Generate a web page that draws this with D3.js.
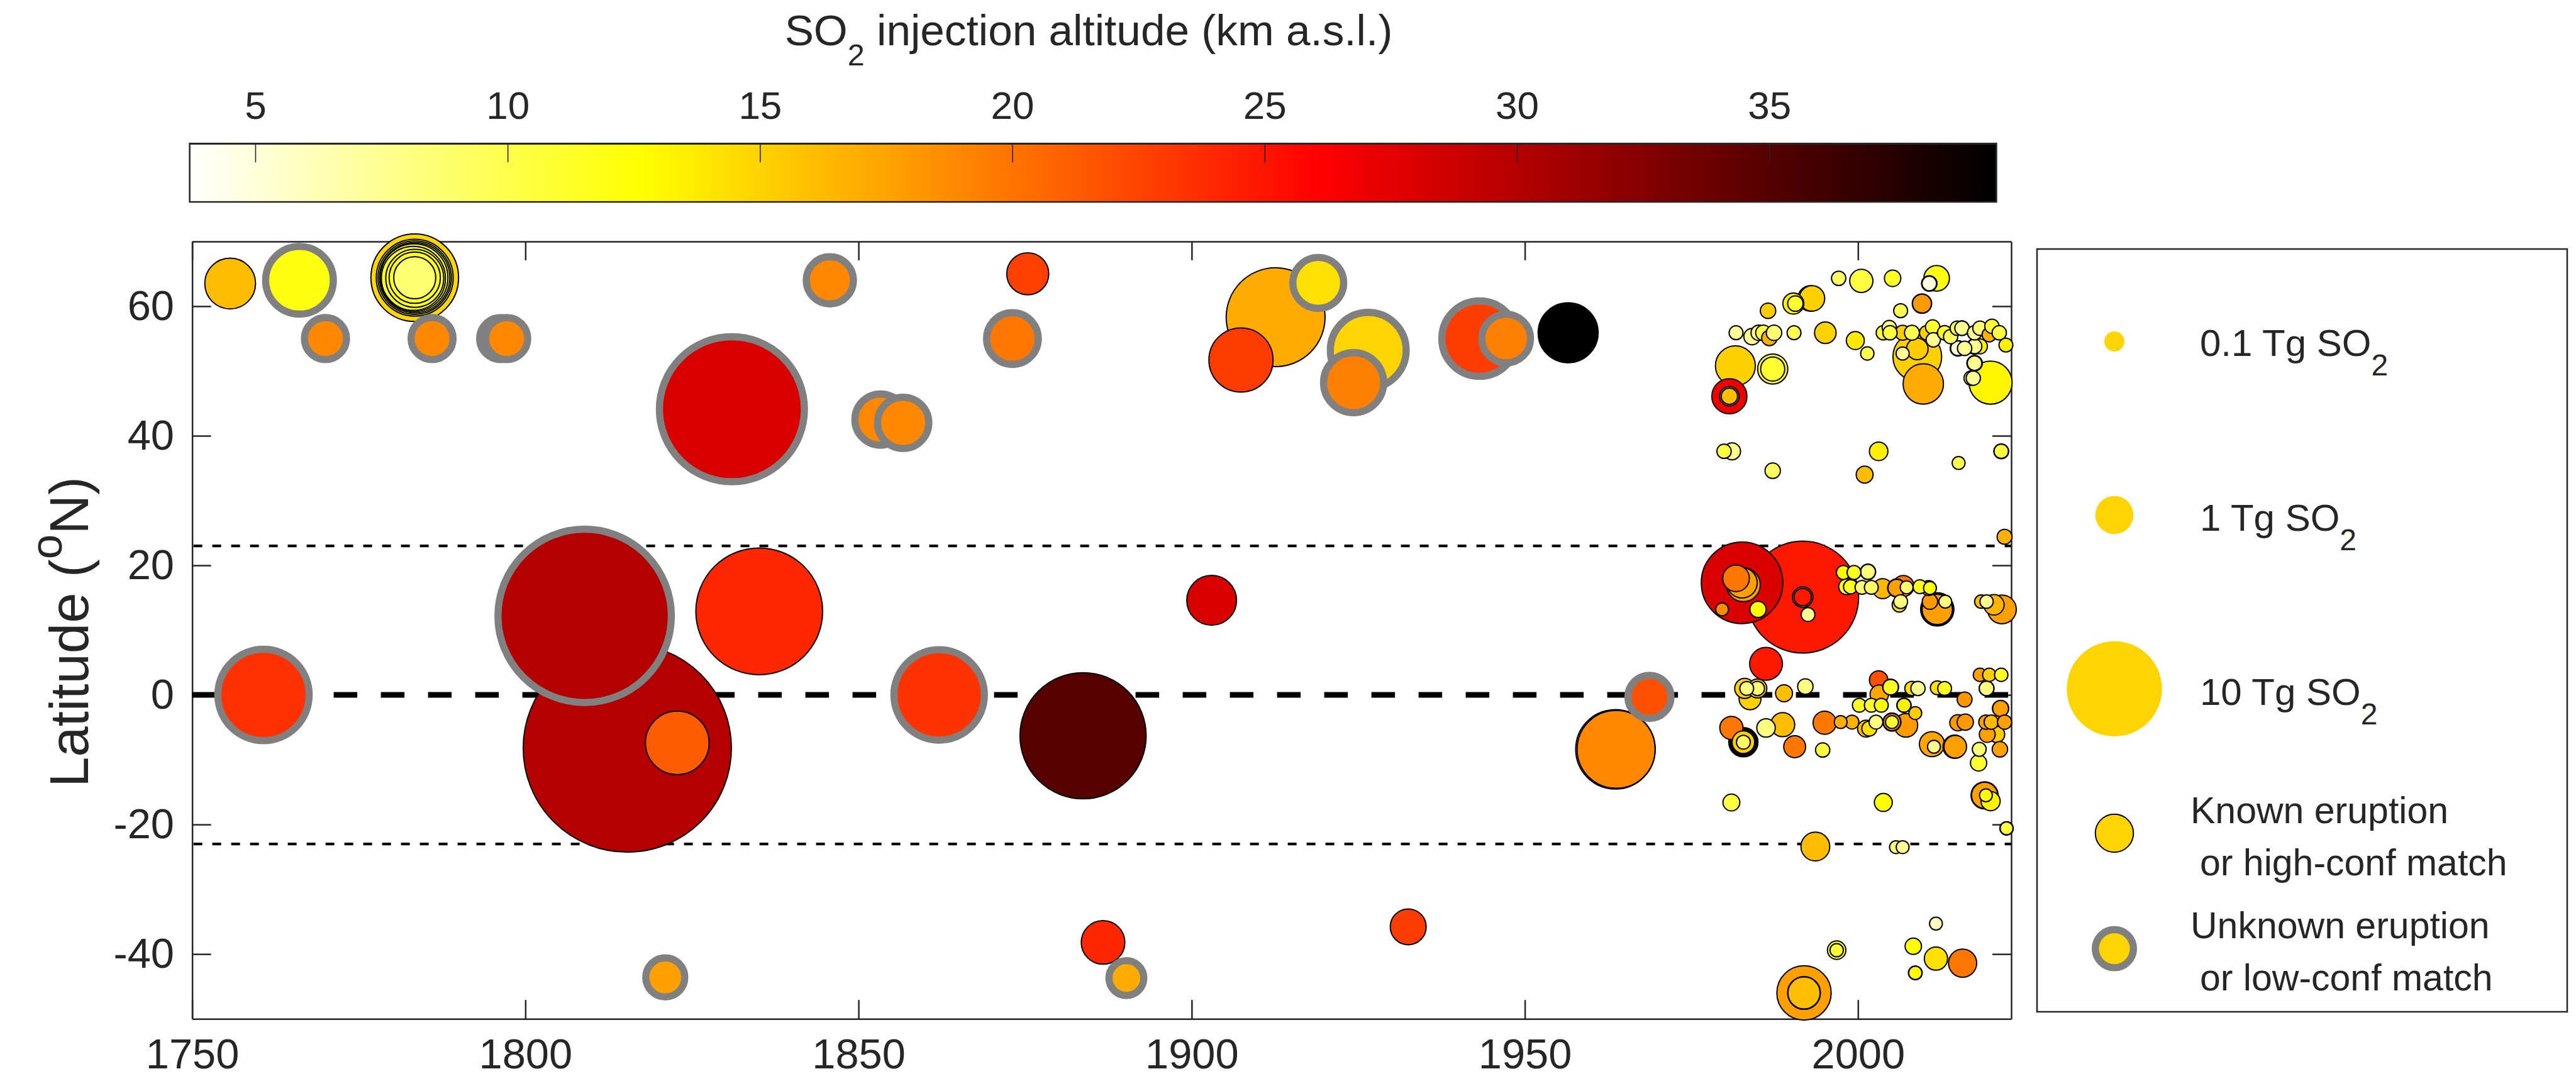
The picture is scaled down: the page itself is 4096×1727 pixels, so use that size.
<!DOCTYPE html>
<html>
<head>
<meta charset="utf-8">
<script src="https://cdn.jsdelivr.net/npm/d3@7/dist/d3.min.js"></script>
<style>
  html, body { margin: 0; padding: 0; background: #ffffff; }
  svg text { font-family: "Liberation Sans", Arial, Helvetica, sans-serif; fill: #262626; }
</style>
</head>
<body>
<svg id="chart" width="4096" height="1727"></svg>
<script>

// rows: [year, latitude (deg N), SO2 mass (Tg), injection altitude (km a.s.l.)]
const knownHistoric = [
    [1755.7, 63.5, 2.19, 16.2],
    [1783.4, 64.4, 8.28, 14.8], [1783.4, 64.4, 6.10, 11.5], [1783.4, 64.4, 5.45, 11.5],
    [1783.4, 64.4, 4.92, 11.5], [1783.3, 64.4, 4.50, 11.5], [1783.2, 64.3, 3.94, 11.5],
    [1783.4, 64.3, 3.07, 11.5], [1783.4, 64.4, 2.25, 11.5], [1783.4, 64.4, 1.32, 8.7],
    [1815.3, -8.2, 55.4, 30.0],
    [1822.8, -7.4, 3.87, 21.3],
    [1835.1, 12.9, 19.0, 24.0],
    [1875.4, 65.0, 1.32, 22.7],
    [1883.7, -6.3, 18.8, 35.0],
    [1886.7, -38.2, 1.46, 24.0],
    [1903.0, 14.6, 2.08, 28.1],
    [1907.4, 51.7, 3.95, 22.9],
    [1912.6, 58.3, 10.9, 17.1],
    [1932.5, -35.8, 0.84, 22.9],
    [1956.5, 55.9, 3.35, 39.5],
    [1963.6, -8.4, 6.6, 18.9],
    [1963.7, -8.4, 6.3, 18.9]
];

const unknownHistoric = [
    [1760.7, 0.0, 9.1, 23.5],
    [1766.1, 64.0, 4.5, 12.1],
    [1770.0, 55.0, 1.32, 18.9],
    [1786.0, 55.0, 1.32, 18.9],
    [1796.3, 55.0, 1.32, 18.9],
    [1797.2, 55.0, 1.32, 18.9],
    [1808.9, 12.2, 37.5, 30.0],
    [1821.0, -43.6, 1.07, 17.7],
    [1831.0, 44.1, 25.5, 28.1],
    [1845.7, 64.0, 1.81, 18.9],
    [1853.3, 42.5, 2.25, 18.9],
    [1856.7, 42.0, 2.25, 18.9],
    [1862.1, 0.0, 8.9, 23.4],
    [1873.1, 55.0, 2.3, 19.8],
    [1890.2, -43.7, 0.77, 17.1],
    [1919.0, 63.6, 2.2, 14.3],
    [1924.3, 48.2, 3.36, 19.4],
    [1926.5, 53.2, 5.9, 14.9],
    [1943.2, 55.0, 5.83, 22.9],
    [1947.2, 55.0, 1.97, 19.4],
    [1968.7, -0.3, 1.42, 21.9]
];

const satNorth = [
    [1997.1, 64.3, 0.01, 9.3], [2000.5, 63.9, 0.19, 10.4], [2005.2, 64.3, 0.032, 11.5],
    [2011.8, 64.3, 0.28, 12.1], [2010.7, 63.5, 0.02, 4.8], [2010.7, 63.5, 0.016, 4.8],
    [2010.7, 63.5, 0.012, 4.8], [1992.9, 61.2, 0.28, 15.1], [1993.1, 61.2, 0.27, 15.1],
    [1990.3, 60.4, 0.125, 13.4], [1990.6, 60.4, 0.02, 11.0], [1986.5, 59.3, 0.02, 15.3],
    [2006.4, 59.3, 0.007, 9.9], [2009.6, 60.4, 0.085, 18.0], [2009.6, 60.4, 0.075, 18.0],
    [1981.7, 55.9, 0.007, 7.3], [1984.1, 55.3, 0.032, 7.6], [1985.1, 55.9, 0.02, 7.6],
    [1985.8, 55.9, 0.02, 10.4], [1986.7, 55.1, 0.02, 16.8], [1987.4, 55.9, 0.02, 8.7],
    [1990.4, 55.9, 0.007, 9.9], [1995.1, 55.9, 0.14, 15.0], [1999.6, 54.7, 0.056, 13.8],
    [2001.4, 52.7, 0.004, 9.9], [2003.8, 55.9, 0.01, 11.0], [2004.7, 56.7, 0.01, 8.2],
    [2004.8, 55.9, 0.01, 10.4], [2006.7, 55.9, 0.015, 15.1], [2008.1, 55.9, 0.015, 9.9],
    [2010.3, 55.9, 0.01, 15.3], [2011.2, 56.8, 0.01, 11.0], [2011.3, 54.8, 0.01, 7.6],
    [2013.0, 55.9, 0.01, 11.5], [2013.9, 55.3, 0.01, 9.3], [2014.9, 56.6, 0.01, 9.3],
    [2015.6, 56.6, 0.012, 7.6], [2015.6, 56.6, 0.01, 7.6], [2017.5, 55.9, 0.01, 7.6],
    [2018.3, 56.6, 0.01, 8.7], [2019.7, 55.6, 0.01, 16.8], [2020.1, 56.9, 0.01, 11.0],
    [2021.2, 55.9, 0.01, 10.4], [2022.2, 54.0, 0.007, 13.5],
    [2015.0, 53.5, 0.02, 4.8], [2015.0, 53.5, 0.016, 4.8], [2015.0, 53.5, 0.012, 4.8],
    [2016.0, 53.5, 0.01, 7.6],
    [2017.5, 53.8, 0.02, 7.6], [2017.5, 53.8, 0.016, 7.6], [2017.5, 53.8, 0.012, 7.6],
    [2018.3, 53.8, 0.015, 13.4],
    [2017.5, 51.2, 0.02, 7.6], [2017.5, 51.2, 0.016, 7.6], [2017.5, 51.2, 0.012, 7.6],
    [2017.3, 48.9, 0.01, 7.3], [2017.0, 48.9, 0.012, 12.65],
    [2008.9, 52.2, 1.97, 15.1], [2008.9, 53.4, 0.14, 15.3], [2006.7, 52.7, 0.003, 7.3],
    [2009.8, 48.0, 1.18, 17.1], [2019.9, 48.2, 1.41, 13.2],
    [1981.6, 50.8, 1.14, 15.1], [1987.2, 50.3, 0.49, 11.0], [1987.2, 50.3, 0.22, 11.0],
    [1980.7, 46.1, 0.79, 27.0], [1980.7, 46.1, 0.087, 16.2], [1980.7, 46.1, 0.03, 16.2],
    [1979.9, 37.6, 0.01, 10.4], [1981.1, 37.6, 0.04, 7.6], [1987.2, 34.6, 0.02, 9.3],
    [2003.1, 37.6, 0.067, 13.5], [2001.0, 34.0, 0.039, 16.2], [2015.1, 35.8, 0.002, 9.9],
    [2021.5, 37.6, 0.014, 10.4], [2021.5, 37.6, 0.01, 10.4]
];

const satTropics = [
    [2022.0, 24.4, 0.015, 16.8],
    [1982.6, 17.3, 7.0, 28.1], [1981.7, 18.0, 0.32, 19.8], [1982.8, 17.0, 0.7, 17.7],
    [1982.6, 17.3, 0.5, 17.7], [1979.6, 13.2, 0.002, 18.7], [1985.0, 13.2, 0.03, 12.65],
    [1991.7, 15.1, 14.4, 24.8], [1991.7, 15.1, 0.11, 17.7], [1991.7, 15.1, 0.047, 24.8],
    [1992.5, 12.4, 0.007, 7.6], [1986.2, 4.8, 0.64, 24.8],
    [1997.8, 18.9, 0.007, 12.65], [1999.4, 18.9, 0.007, 11.5], [2001.5, 19.0, 0.02, 8.2],
    [2001.5, 19.0, 0.015, 8.2], [1998.3, 16.7, 0.025, 11.0], [1998.9, 16.7, 0.01, 11.5],
    [2000.6, 16.6, 0.007, 8.7], [2002.0, 16.6, 0.007, 9.3], [2003.7, 16.4, 0.1, 16.4],
    [2005.8, 16.5, 0.056, 17.7], [2005.8, 16.5, 0.05, 17.7], [2005.8, 16.5, 0.045, 17.7],
    [2006.8, 16.8, 0.13, 19.8], [2007.3, 16.6, 0.002, 8.7], [2006.2, 13.9, 0.01, 14.3],
    [2006.4, 14.4, 0.007, 8.2], [2009.3, 16.7, 0.007, 11.5], [2010.6, 16.5, 0.015, 17.7],
    [2010.8, 16.5, 0.002, 12.1],
    [2011.9, 13.2, 0.67, 17.7], [2011.9, 13.2, 0.58, 17.7], [2011.9, 13.2, 0.5, 17.7],
    [2010.8, 14.4, 0.02, 18.0], [2013.1, 14.4, 0.002, 8.2],
    [2018.5, 14.4, 0.004, 16.0], [2019.3, 14.4, 0.004, 7.6], [2020.4, 13.9, 0.11, 16.6],
    [2021.6, 13.2, 0.42, 17.7],
    [1983.0, 1.0, 0.1, 15.1], [1983.3, 1.0, 0.007, 8.2], [1984.9, 1.0, 0.076, 15.5],
    [1984.9, 1.0, 0.01, 8.7], [1983.8, -0.6, 0.15, 15.1], [1988.9, 0.25, 0.039, 16.0],
    [1992.1, 1.3, 0.02, 8.2], [2003.1, 2.3, 0.066, 21.9], [2003.2, 0.1, 0.066, 17.4],
    [2004.9, 1.2, 0.025, 11.5], [2004.9, 1.2, 0.02, 11.5], [2008.1, 1.0, 0.01, 14.4],
    [2009.0, 1.0, 0.01, 7.6], [2011.9, 1.1, 0.007, 14.4], [2013.0, 1.0, 0.007, 11.5],
    [2018.3, 3.1, 0.004, 17.7], [2019.7, 3.1, 0.004, 15.3], [2021.5, 3.1, 0.004, 11.5],
    [2019.3, 1.0, 0.015, 8.2], [2019.3, 1.0, 0.012, 8.2],
    [1981.0, -5.1, 0.19, 19.8],
    [1982.8, -7.3, 0.44, 15.1], [1982.8, -7.3, 0.38, 15.1], [1982.8, -7.3, 0.32, 15.1],
    [1982.8, -7.3, 0.27, 15.1], [1982.8, -7.3, 0.22, 15.1], [1982.8, -7.3, 0.17, 15.1],
    [1982.8, -7.3, 0.007, 9.3],
    [1986.2, -5.1, 0.067, 8.2], [1988.7, -4.6, 0.22, 16.2], [1990.5, -8.0, 0.15, 19.8],
    [1994.7, -8.5, 0.01, 10.4], [1995.0, -4.3, 0.19, 19.8], [1997.4, -4.2, 0.002, 16.8],
    [1999.1, -4.2, 0.007, 16.8], [2001.2, -5.2, 0.039, 16.4], [2001.7, -5.2, 0.015, 14.3],
    [2002.7, -4.2, 0.007, 8.2], [2000.2, -1.6, 0.007, 11.5], [2002.0, -1.6, 0.007, 11.0],
    [2003.5, -1.6, 0.007, 12.65], [2006.9, -1.6, 0.01, 13.5], [2006.9, -1.6, 0.007, 13.5],
    [2005.1, -4.2, 0.056, 18.0], [2005.1, -4.2, 0.05, 18.0], [2005.1, -4.2, 0.045, 18.0],
    [2005.1, -4.2, 0.002, 11.0], [2007.2, -4.7, 0.2, 18.0], [2008.6, -2.8, 0.002, 15.3],
    [2011.1, -7.6, 0.26, 17.4], [2011.4, -8.0, 0.002, 7.6], [2014.5, -8.0, 0.19, 17.7],
    [2014.6, -8.0, 0.17, 17.7], [2015.0, -4.3, 0.03, 18.0], [2016.1, -4.2, 0.03, 18.0],
    [2016.0, -0.7, 0.015, 18.2], [2019.2, -4.2, 0.01, 17.7], [2020.0, -4.2, 0.01, 16.2],
    [2022.0, -4.2, 0.01, 17.7], [2021.4, -2.1, 0.03, 17.7], [2021.4, -2.1, 0.025, 17.7],
    [2019.4, -6.1, 0.025, 17.7], [2020.8, -6.1, 0.03, 15.3], [2021.3, -8.4, 0.02, 17.7],
    [2018.2, -8.4, 0.007, 8.7], [2018.1, -10.5, 0.03, 11.0],
    [2019.0, -15.5, 0.34, 17.7], [2019.0, -15.5, 0.3, 17.7], [2019.9, -16.4, 0.08, 13.4],
    [2019.2, -15.5, 0.002, 12.65], [2022.3, -20.6, 0.004, 10.4], [2022.3, -20.6, 0.002, 10.4],
    [1981.0, -16.6, 0.039, 10.4], [2003.8, -16.6, 0.056, 12.65], [1993.6, -23.4, 0.42, 16.2],
    [2005.7, -23.5, 0.002, 8.7], [2006.7, -23.5, 0.002, 7.6]
];

const satSouth = [
    [1991.9, -46.0, 2.61, 17.7], [1991.9, -46.0, 0.64, 16.0], [1991.9, -46.0, 0.6, 16.0],
    [1996.8, -39.4, 0.066, 11.0], [1996.8, -39.4, 0.004, 11.0], [2011.7, -35.3, 0.002, 5.9],
    [2008.3, -38.8, 0.032, 12.65], [2008.6, -42.9, 0.006, 12.65], [2008.6, -42.9, 0.004, 12.65],
    [2011.7, -40.7, 0.19, 14.3], [2015.7, -41.4, 0.39, 19.8]
];

const xTicks = [1750, 1800, 1850, 1900, 1950, 2000];
const yTicks = [-40, -20, 0, 20, 40, 60];
const altTicks = [5, 10, 15, 20, 25, 30, 35];
const altRange = [3.7, 39.5];
const tropicLats = [23, -23];
const legendMass = [0.1, 1, 10];
const legendMassLabels = ["0.1 Tg SO", "1 Tg SO", "10 Tg SO"];
const legendEdgeLabels = [["Known eruption", "or high-conf match"], ["Unknown eruption", "or low-conf match"]];


const svg = d3.select("#chart");

const plotLeft = 305.6, plotRight = 3198, plotTop = 383.9, plotBottom = 1620.2;

const x = d3.scaleLinear().domain([1750, 2023]).range([plotLeft, plotRight]);
const y = d3.scaleLinear().domain([-50, 70]).range([plotBottom, plotTop]);

// reversed "hot" map: white -> yellow -> red -> black
const altColor = d3.scaleLinear()
    .domain([altRange[0], 12.65, 26.08, altRange[1]])
    .range(["#ffffff", "#ffff00", "#ff0000", "#000000"])
    .clamp(true);

// marker radius grows with sqrt of the SO2 mass
const radius = d3.scaleSqrt().domain([0, 10]).range([9.29, 75.67]);

const eruptions = [];
knownHistoric.concat(satNorth, satTropics, satSouth).forEach(r => {
    eruptions.push({year: r[0], lat: r[1], mass: r[2], alt: r[3], known: true});
});
unknownHistoric.forEach(r => {
    eruptions.push({year: r[0], lat: r[1], mass: r[2], alt: r[3], known: false});
});
eruptions.sort((a, b) => b.mass - a.mass);


// colorbar
const cbTop = 228.2, cbBottom = 321.1;
const cbX = d3.scaleLinear().domain(altRange).range([301.6, 3174.4]);

const grad = svg.append("defs").append("linearGradient").attr("id", "altgrad")
    .attr("x1", "0%").attr("x2", "100%").attr("y1", "0%").attr("y2", "0%");
grad.selectAll("stop")
    .data(altColor.domain())
    .enter()
    .append("stop")
    .attr("offset", d => ((d - altRange[0]) / (altRange[1] - altRange[0]) * 100) + "%")
    .attr("stop-color", d => altColor(d));

svg.append("rect")
    .attr("x", cbX(altRange[0])).attr("y", cbTop)
    .attr("width", cbX(altRange[1]) - cbX(altRange[0]))
    .attr("height", cbBottom - cbTop)
    .attr("fill", "url(#altgrad)")
    .attr("stroke", "#262626").attr("stroke-width", 2.5);

const cbAxis = svg.append("g")
    .attr("transform", "translate(0," + cbTop + ")")
    .style("color", "#262626")
    .call(d3.axisTop(cbX).tickValues(altTicks).tickSizeInner(-30).tickSizeOuter(0)
        .tickPadding(39).tickFormat(d3.format("d")));
cbAxis.attr("font-size", 62).attr("font-family", null);
cbAxis.selectAll("line").attr("stroke-width", 1.6);
cbAxis.select(".domain").attr("stroke-width", 2.5);

const cbTitle = svg.append("text")
    .attr("x", 1731).attr("y", 71.7)
    .attr("text-anchor", "middle")
    .style("font-size", "69.3px");
cbTitle.append("tspan").text("SO");
cbTitle.append("tspan").attr("dy", 32).style("font-size", "48.5px").text("2");
cbTitle.append("tspan").attr("dy", -32).text(" injection altitude (km a.s.l.)");


// axes box
function styleAxis(g) {
    g.attr("font-size", 66.8).attr("font-family", null).style("color", "#262626");
    g.selectAll("line").attr("stroke-width", 2.5);
    g.select(".domain").attr("stroke-width", 2.5);
}

svg.append("g")
    .attr("transform", "translate(0," + plotBottom + ")")
    .call(d3.axisBottom(x).tickValues(xTicks).tickSizeInner(-30).tickSizeOuter(0)
        .tickPadding(31).tickFormat(d3.format("d")))
    .call(styleAxis);

svg.append("g")
    .attr("transform", "translate(0," + plotTop + ")")
    .call(d3.axisTop(x).tickValues(xTicks).tickSizeInner(-30).tickSizeOuter(0).tickFormat(""))
    .call(styleAxis);

svg.append("g")
    .attr("transform", "translate(" + plotLeft + ",0)")
    .call(d3.axisLeft(y).tickValues(yTicks).tickSizeInner(-30).tickSizeOuter(0)
        .tickPadding(28.6).tickFormat(d => String(d)))
    .call(styleAxis);

svg.append("g")
    .attr("transform", "translate(" + plotRight + ",0)")
    .call(d3.axisRight(y).tickValues(yTicks).tickSizeInner(-30).tickSizeOuter(0).tickFormat(""))
    .call(styleAxis);

const yLabel = svg.append("text")
    .attr("transform", "translate(140,1005) rotate(-90)")
    .attr("text-anchor", "middle")
    .style("font-size", "87px");
yLabel.append("tspan").text("Latitude (");
yLabel.append("tspan").attr("dy", -42).style("font-size", "71px").text("o");
yLabel.append("tspan").attr("dy", 42).text("N)");


// equator and tropics
svg.append("line")
    .attr("x1", x(1750)).attr("x2", x(2023))
    .attr("y1", y(0)).attr("y2", y(0))
    .attr("stroke", "#000").attr("stroke-width", 9)
    .attr("stroke-dasharray", "37.5,37.5");

svg.selectAll(".tropic")
    .data(tropicLats)
    .enter()
    .append("line")
    .attr("class", "tropic")
    .attr("x1", x(1750)).attr("x2", x(2023))
    .attr("y1", d => y(d)).attr("y2", d => y(d))
    .attr("stroke", "#000").attr("stroke-width", 4.2)
    .attr("stroke-dasharray", "14,16")
    .attr("stroke-dashoffset", -32);


// eruptions
svg.append("g")
    .selectAll("circle")
    .data(eruptions)
    .enter()
    .append("circle")
    .attr("cx", d => x(d.year))
    .attr("cy", d => y(d.lat))
    .attr("r", d => radius(d.mass))
    .attr("fill", d => altColor(d.alt))
    .attr("stroke", d => d.known ? "#000000" : "#808080")
    .attr("stroke-width", d => d.known ? 2 : 11.4);


// legend
const legendFill = "#ffd400";
svg.append("rect")
    .attr("x", 3239).attr("y", 396)
    .attr("width", 843).attr("height", 1213)
    .attr("fill", "#fff")
    .attr("stroke", "#262626").attr("stroke-width", 2.5);

const legMarkerX = 3362;
const legMassY = [543, 819, 1095.4];
const legMassBase = [566, 843.5, 1120.6];

svg.selectAll(".legmass")
    .data(legendMass)
    .enter()
    .append("circle")
    .attr("class", "legmass")
    .attr("cx", legMarkerX)
    .attr("cy", (d, i) => legMassY[i])
    .attr("r", d => radius(d))
    .attr("fill", legendFill)
    .attr("stroke", "none");

legendMassLabels.forEach((lab, i) => {
    const t = svg.append("text")
        .attr("x", 3498).attr("y", legMassBase[i])
        .style("font-size", "60px");
    t.append("tspan").text(lab);
    t.append("tspan").attr("dy", 31).style("font-size", "48px").text("2");
});

const legEdgeY = [1325, 1508.6];
const legEdgeBase = [[1309, 1392], [1491.5, 1574.6]];
[true, false].forEach((known, i) => {
    svg.append("circle")
        .attr("cx", legMarkerX).attr("cy", legEdgeY[i])
        .attr("r", radius(1))
        .attr("fill", legendFill)
        .attr("stroke", known ? "#000000" : "#808080")
        .attr("stroke-width", known ? 2 : 11.4);
    svg.append("text")
        .attr("x", 3483).attr("y", legEdgeBase[i][0])
        .style("font-size", "59px")
        .text(legendEdgeLabels[i][0]);
    svg.append("text")
        .attr("x", 3498).attr("y", legEdgeBase[i][1])
        .style("font-size", "59px")
        .text(legendEdgeLabels[i][1]);
});

</script>
</body>
</html>
